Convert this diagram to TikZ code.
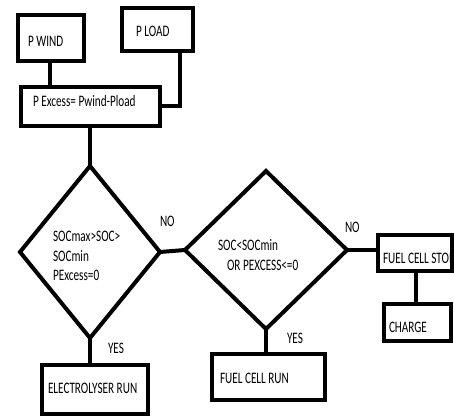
\documentclass[tikz,border=0pt]{standalone}
\usepackage{fontspec}
\usepackage{graphicx}
\setmainfont{Carlito}
\usetikzlibrary{shapes.geometric}
\newcommand{\sqz}[1]{\scalebox{0.7}[1]{#1}}
\begin{document}
\begin{tikzpicture}[x=1pt,y=-1pt,
  box/.style={draw, line width=4pt, inner sep=0pt, outer sep=0pt},
  dia/.style={draw, diamond, line width=4pt, inner sep=0pt, outer sep=0pt},
  conn/.style={line width=4pt},
  lbl/.style={anchor=base west, inner sep=0pt, outer sep=0pt, font=\fontsize{16}{19}\selectfont}]
\path[use as bounding box] (0,0) rectangle (454,419);
\clip (0,0) rectangle (454,419);
\fill[white] (0,0) rectangle (454,419);

% boxes
\node[box, minimum width=66pt, minimum height=46pt] (pwind) at (51,38) {};
\node[box, minimum width=71pt, minimum height=43pt] (pload) at (157.5,29.5) {};
\node[box, minimum width=139pt, minimum height=39pt] (pex) at (90.5,106.5) {};
\node[box, minimum width=106pt, minimum height=49pt] (elec) at (95,389.5) {};
\node[box, minimum width=113pt, minimum height=46pt] (fcrun) at (268.5,377) {};
\node[box, minimum width=74pt, minimum height=36pt] (fcstop) at (415,253) {};
\node[box, minimum width=67pt, minimum height=37pt] (charge) at (417.5,322.5) {};

% diamonds
\node[dia, minimum width=140pt, minimum height=172pt] (d1) at (90,252) {};
\node[dia, minimum width=162pt, minimum height=158pt] (d2) at (266,250) {};

% connectors
\draw[conn] ([xshift=-1pt]pwind.south) -- ([xshift=-1pt]pwind.south |- pex.north);
\draw[conn] ([xshift=22.5pt]pload.south) |- (pex.east);
\draw[conn] (pex.south -| d1.north) -- (d1.north);
\draw[conn] (d1.east) -- (d2.west);
\draw[conn] (d1.south) -- (d1.south |- elec.north);
\draw[conn] (d2.south) -- (d2.south |- fcrun.north);
\draw[conn] (d2.east) -- (d2.east -| fcstop.west);
\draw[conn] ([xshift=-2pt]charge.north |- fcstop.south) -- ([xshift=-2pt]charge.north);

% texts
\node[lbl] (t1) at (28,47) {\sqz{P WIND}};
\node[lbl] (t2) at (136,37) {\sqz{P LOAD}};
\node[lbl] (t3) at (33,107) {\sqz{P Excess= Pwind-Pload}};
\node[lbl] (t4) at (53,241) {\sqz{SOCmax>SOC>}};
\node[lbl] (t5) at (53,261) {\sqz{SOCmin}};
\node[lbl] (t6) at (53,280) {\sqz{PExcess=0}};
\node[lbl] (t7) at (160,226) {\sqz{NO}};
\node[lbl] (t8) at (218,250) {\sqz{SOC<SOCmin}};
\node[lbl] (t9) at (227,270) {\sqz{OR PEXCESS<=0}};
\node[lbl] (t10) at (345,233) {\sqz{NO}};
\node[lbl] (t11) at (383,263) {\sqz{FUEL CELL STOP}};
\node[lbl] (t12) at (108,353) {\sqz{YES}};
\node[lbl] (t13) at (48,393) {\sqz{ELECTROLYSER RUN}};
\node[lbl] (t14) at (287,343) {\sqz{YES}};
\node[lbl] (t15) at (220,383) {\sqz{FUEL CELL RUN}};
\node[lbl] (t16) at (389,332) {\sqz{CHARGE}};
\end{tikzpicture}
\end{document}
